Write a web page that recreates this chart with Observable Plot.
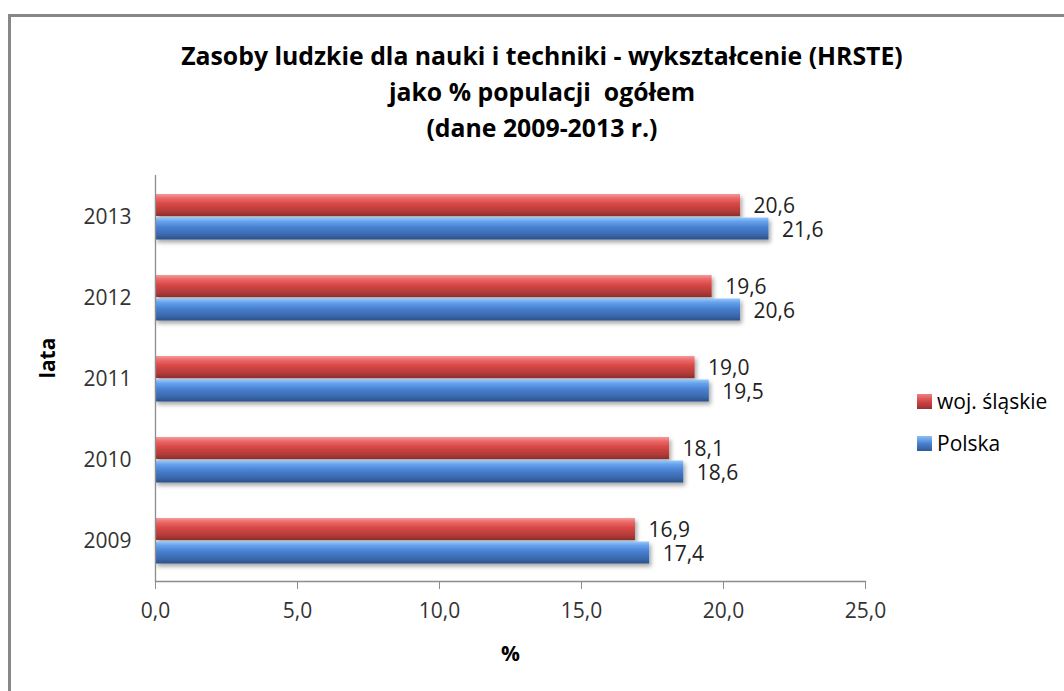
<!DOCTYPE html>
<html>
<head>
<meta charset="utf-8">
<script src="https://cdn.jsdelivr.net/npm/d3@7"></script>
<script src="https://cdn.jsdelivr.net/npm/@observablehq/plot@0.6"></script>
<style>
  html, body { margin: 0; padding: 0; background: #fff; }
  #wrap { position: relative; width: 1064px; height: 691px; overflow: hidden; font-family: "Open Sans", "Noto Sans", sans-serif; }
  #frame { position: absolute; left: 8px; top: 14px; width: 1100px; height: 720px; border-top: 3px solid #878787; border-left: 3px solid #878787; box-sizing: border-box; }
  #title { position: absolute; left: 0; width: 1084px; top: 37px; text-align: center; font-weight: bold; font-size: 24.8px; line-height: 36px; color: #000; }
  #chart { position: absolute; left: 0; top: 0; }
  #legend { position: absolute; left: 917px; top: 380px; font-size: 21px; color: #000; }
  .item { display: flex; align-items: center; height: 42px; white-space: nowrap; }
  .sw { width: 15px; height: 15px; margin-right: 5px; }
</style>
</head>
<body>
<div id="wrap">
  <div id="chart"></div>
  <div id="frame"></div>
  <div id="title">Zasoby ludzkie dla nauki i techniki - wykształcenie (HRSTE)<br>jako % populacji&nbsp; ogółem<br>(dane 2009-2013 r.)</div>
  <div id="legend"></div>
</div>
<script>
const years = ["2013", "2012", "2011", "2010", "2009"];
const slaskie = [20.6, 19.6, 19.0, 18.1, 16.9];
const polska = [21.6, 20.6, 19.5, 18.6, 17.4];
const seriesNames = ["woj. śląskie", "Polska"];
const xTicks = [0, 5, 10, 15, 20, 25];

const fmt = v => v.toFixed(1).replace(".", ",");
const dataS = years.map((y, i) => ({year: y, value: slaskie[i]}));
const dataP = years.map((y, i) => ({year: y, value: polska[i]}));

const fontFam = "'Open Sans', 'Noto Sans', sans-serif";

const plot = Plot.plot({
  width: 1064,
  height: 691,
  marginLeft: 155,
  marginRight: 199,
  marginTop: 175,
  marginBottom: 110,
  style: {fontFamily: fontFam, fontSize: "21px", color: "#333", background: "transparent"},
  x: {domain: [0, 25], ticks: xTicks, tickFormat: fmt, label: null},
  y: {domain: years, padding: 0, label: null},
  marks: [
    Plot.barX(dataS, {y: "year", x: "value", fill: "url(#gRed)", insetTop: 18, insetBottom: 41, className: "bar"}),
    Plot.barX(dataP, {y: "year", x: "value", fill: "url(#gBlue)", insetTop: 41.5, insetBottom: 17.5, className: "bar"}),
    Plot.ruleX([0], {stroke: "#8c8c8c", strokeWidth: 1.3}),
    Plot.frame({anchor: "bottom", stroke: "#8c8c8c", strokeWidth: 1.3}),
    Plot.axisX({ticks: xTicks, tickFormat: fmt, tickSize: 8, tickPadding: 14, stroke: "#8c8c8c", fill: "#333", fontSize: 21, label: null}),
    Plot.axisY({tickSize: 0, tickPadding: 24, fill: "#333", fontSize: 21, label: null}),
    Plot.text(dataS, {y: "year", x: "value", text: d => fmt(d.value), textAnchor: "start", dx: 13, dy: -10.5, fontSize: 21, fill: "#222"}),
    Plot.text(dataP, {y: "year", x: "value", text: d => fmt(d.value), textAnchor: "start", dx: 13, dy: 13.5, fontSize: 21, fill: "#222"}),
    Plot.text(["%"], {frameAnchor: "bottom", dy: 79, fontWeight: "bold", fontSize: 21, fill: "#000"}),
    Plot.text(["lata"], {frameAnchor: "left", dx: -107, rotate: -90, fontWeight: "bold", fontSize: 21, fill: "#000"})
  ]
});

// gradient & shadow defs
const svg = d3.select(plot);
const defs = svg.insert("defs", ":first-child");
function grad(id, stops) {
  const g = defs.append("linearGradient").attr("id", id).attr("x1", 0).attr("y1", 0).attr("x2", 0).attr("y2", 1);
  stops.forEach(([o, c]) => g.append("stop").attr("offset", o).attr("stop-color", c));
}
grad("gRed", [[0, "#f59a9a"], [0.18, "#ec6a6a"], [0.45, "#d84745"], [0.8, "#b03a38"], [1, "#8c2e2d"]]);
grad("gBlue", [[0, "#98c8fa"], [0.18, "#66a2ec"], [0.45, "#4880d2"], [0.8, "#3967ab"], [1, "#2b5086"]]);
const f = defs.append("filter").attr("id", "shadow").attr("x", "-5%").attr("y", "-30%").attr("width", "115%").attr("height", "190%");
f.append("feDropShadow").attr("dx", 2).attr("dy", 3).attr("stdDeviation", 2).attr("flood-color", "#000").attr("flood-opacity", 0.35);
svg.selectAll("g.bar").attr("filter", "url(#shadow)");

document.getElementById("chart").appendChild(plot);

const legend = document.getElementById("legend");
[[seriesNames[0], "linear-gradient(#f08080, #d04545 50%, #9a3030)"], [seriesNames[1], "linear-gradient(#8cc0f8, #4a80d0 50%, #2f5a98)"]].forEach(([name, bg]) => {
  const d = document.createElement("div");
  d.className = "item";
  d.innerHTML = `<span class="sw" style="background:${bg}"></span><span>${name}</span>`;
  legend.appendChild(d);
});
</script>
</body>
</html>
